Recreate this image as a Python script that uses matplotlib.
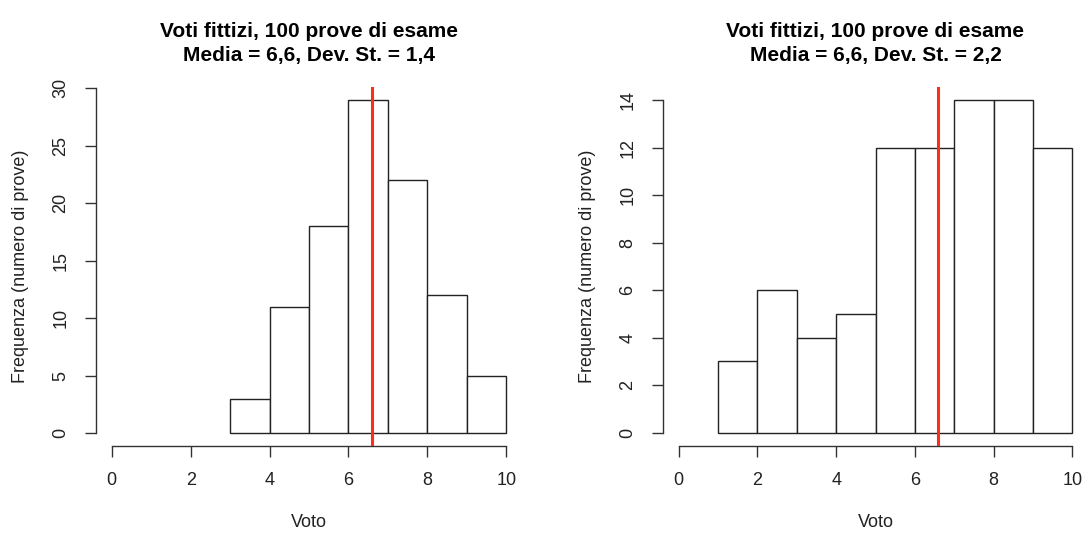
import matplotlib
matplotlib.use("Agg")
import matplotlib.pyplot as plt

plt.rcParams['font.family'] = ['Liberation Sans', 'DejaVu Sans']

left_edges = [3, 4, 5, 6, 7, 8, 9]
left_counts = [3, 11, 18, 29, 22, 12, 5]
right_edges = [1, 2, 3, 4, 5, 6, 7, 8, 9]
right_counts = [3, 6, 4, 5, 12, 12, 14, 14, 12]
mean_value = 6.6
titles = ["Voti fittizi, 100 prove di esame\nMedia = 6,6, Dev. St. = 1,4",
          "Voti fittizi, 100 prove di esame\nMedia = 6,6, Dev. St. = 2,2"]
x_ticks = [0, 2, 4, 6, 8, 10]
left_yticks = [0, 5, 10, 15, 20, 25, 30]
right_yticks = [0, 2, 4, 6, 8, 10, 12, 14]
xlabel = "Voto"
ylabel = "Frequenza (numero di prove)"

W, H = 1085, 533
fig = plt.figure(figsize=(W / 100, H / 100), dpi=100)

def make_ax(x0, x1, y_top, y_bot):
    return fig.add_axes([x0 / W, (H - y_bot) / H, (x1 - x0) / W, (y_bot - y_top) / H])

panels = [
    (make_ax(96, 522, 87, 446), left_edges, left_counts, left_yticks, (-1.13, 30.1), titles[0]),
    (make_ax(663, 1088, 87, 446), right_edges, right_counts, right_yticks, (-0.56, 14.56), titles[1]),
]

for ax, edges, counts, yt, ylim, title in panels:
    ax.bar(edges, counts, width=1, align='edge', facecolor='white',
           edgecolor='#222222', linewidth=1.0, zorder=2)
    ax.axvline(mean_value, color='#FF2B1C', linewidth=2.2, zorder=3)
    ax.set_xlim(-0.4, 10.4)
    ax.set_ylim(*ylim)
    for s in ['top', 'right']:
        ax.spines[s].set_visible(False)
    ax.spines['bottom'].set_bounds(0, 10)
    ax.spines['left'].set_bounds(yt[0], yt[-1])
    for s in ['bottom', 'left']:
        ax.spines[s].set_color('#333333')
        ax.spines[s].set_linewidth(1.0)
    ax.set_xticks(x_ticks)
    ax.set_yticks(yt)
    ax.set_yticklabels([str(v) for v in yt], rotation=90, va='center')
    ax.tick_params(axis='both', length=8, width=1.0, color='#333333',
                   labelsize=13, labelcolor='#222222', pad=11)
    ax.set_xlabel(xlabel, fontsize=13, color='#222222', labelpad=18)
    ax.set_ylabel(ylabel, fontsize=13, color='#222222', labelpad=17)
    ax.set_title(title, fontsize=15, fontweight='bold', pad=19, linespacing=1.3)

fig.savefig("out.png", dpi=100)
